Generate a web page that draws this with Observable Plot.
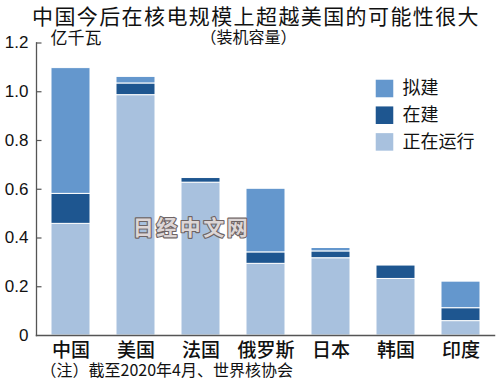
<!DOCTYPE html>
<html>
<head>
<meta charset="utf-8">
<script src="https://cdn.jsdelivr.net/npm/d3@7"></script>
<script src="https://cdn.jsdelivr.net/npm/@observablehq/plot@0.6"></script>
<style>
  html, body { margin: 0; padding: 0; background: #fff; }
  body { width: 500px; height: 387px; overflow: hidden; font-family: "Noto Sans CJK SC", sans-serif; }
  #title { height: 28px; line-height: 30px; font-size: 21px; letter-spacing: 1.4px; text-align: center; padding-left: 12px; color: #111; white-space: nowrap; }
  svg { display: block; overflow: visible; }
</style>
</head>
<body>
<div id="title">中国今后在核电规模上超越美国的可能性很大</div>
<div id="chart"></div>
<script>
const countries = ["中国", "美国", "法国", "俄罗斯", "日本", "韩国", "印度"];
const statuses = ["正在运行", "在建", "拟建"];
const legendOrder = ["拟建", "在建", "正在运行"];
const operating    = [0.458, 0.986, 0.627, 0.294, 0.317, 0.232, 0.059];
const construction = [0.123, 0.048, 0.019, 0.047, 0.028, 0.055, 0.053];
const planned      = [0.516, 0.027, 0.000, 0.261, 0.014, 0.000, 0.109];
const yTicks = [0, 0.2, 0.4, 0.6, 0.8, 1.0, 1.2];
const colors = ["#6497cd", "#1e5690", "#a8c1de"]; // for legendOrder

const series = [operating, construction, planned];
const table = [];
countries.forEach((c, i) => {
  statuses.forEach((s, j) => table.push({country: c, status: s, value: series[j][i]}));
});

const W = 500, H = 359;
const mL = 36, mT = 14.5, mR = 6, mB = 52;
const font = "Noto Sans CJK SC";
const numFont = "Liberation Sans Narrow, Liberation Sans, Arial, sans-serif";

const chart = Plot.plot({
  width: W, height: H,
  marginLeft: mL, marginTop: mT, marginRight: mR, marginBottom: mB,
  style: {fontFamily: font, color: "#111", background: "#fff", overflow: "visible"},
  x: {domain: countries, paddingInner: 0.4, paddingOuter: 0.2, axis: null, label: null},
  y: {domain: [0, 1.2], axis: null, label: null},
  color: {domain: legendOrder, range: colors},
  marks: [
    Plot.barY(table, Plot.stackY({x: "country", y: "value", fill: "status", stroke: "white", strokeWidth: 1})),
    Plot.axisY({ticks: yTicks, label: null, tickFormat: d => d === 0 ? "0" : d.toFixed(1), tickSize: 0, tickPadding: 8, fontSize: 17, fontFamily: numFont, fill: "#111"}),
    Plot.tickY(yTicks.filter(d => d > 0), {y: d => d, insetRight: W - mL - mR - 5.5, stroke: "#555", strokeWidth: 1.2}),
    Plot.axisX({label: null, tickSize: 0, tickPadding: 8, fontSize: 19, fontWeight: 500, fill: "#111"}),
    Plot.frame({anchor: "left", stroke: "#555", strokeWidth: 1.3}),
    Plot.frame({anchor: "bottom", stroke: "#555", strokeWidth: 1.5}),
    // subtitle & unit
    Plot.text(["（装机容量）"], {frameAnchor: "top-left", dx: 212, dy: -11, lineAnchor: "top", textAnchor: "middle", fontSize: 16, fill: "#111"}),
    Plot.text(["亿千瓦"], {frameAnchor: "top-left", dx: 14, dy: -11, lineAnchor: "top", textAnchor: "start", fontSize: 17, fill: "#111"}),
    // legend
    ...legendOrder.map((s, i) => Plot.dot([s], {frameAnchor: "top-left", dx: 348, dy: 45.5 + i * 26.7, symbol: "square", r: 9.9, fill: colors[i], stroke: null})),
    ...legendOrder.map((s, i) => Plot.text([s], {frameAnchor: "top-left", dx: 366, dy: 45.5 + i * 26.7, lineAnchor: "middle", textAnchor: "start", fontSize: 18, fill: "#111"})),
    // watermark
    Plot.text(["日经中文网"], {frameAnchor: "top-left", dx: 155, dy: 185.5, lineAnchor: "middle", textAnchor: "middle", fontSize: 21, fontWeight: "bold", fill: "#ddd6d6", stroke: "#6e6464", strokeWidth: 2.2, paintOrder: "stroke"}),
    // footnote
    Plot.text(["（注）截至2020年4月、世界核协会"], {frameAnchor: "bottom-left", dx: 4, dy: 29, lineAnchor: "top", textAnchor: "start", fontSize: 16, fill: "#111"})
  ]
});
d3.select(chart).selectAll("text").filter(function() { return this.textContent === "日经中文网"; }).style("letter-spacing", "2.5px");
document.getElementById("chart").appendChild(chart);
</script>
</body>
</html>
